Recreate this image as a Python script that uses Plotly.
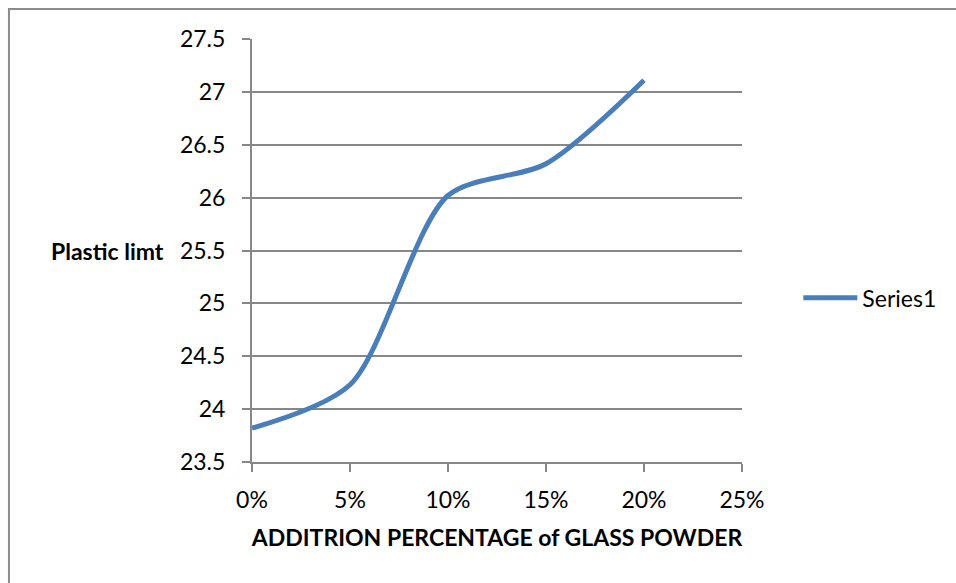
import plotly.graph_objects as go

x_pct = [0, 0.05, 0.10, 0.15, 0.20]
plastic_limit = [23.82, 24.23, 26.02, 26.32, 27.11]
series_name = "Series1"
x_ticks = [0, 0.05, 0.10, 0.15, 0.20, 0.25]
x_tick_labels = ["0%", "5%", "10%", "15%", "20%", "25%"]
y_ticks = [23.5, 24, 24.5, 25, 25.5, 26, 26.5, 27, 27.5]
y_tick_labels = ["23.5", "24", "24.5", "25", "25.5", "26", "26.5", "27", "27.5"]

FONT = "Lato, Carlito, Calibri, sans-serif"
GRID = "#878787"
FS = 23

fig = go.Figure()
fig.add_trace(go.Scatter(
    x=x_pct, y=plastic_limit, name=series_name, mode="lines",
    line=dict(color="#4a7ebb", width=5, shape="spline", smoothing=0.8),
))

fig.update_layout(
    width=956, height=583,
    margin=dict(l=252, r=214, t=39, b=121),
    paper_bgcolor="white", plot_bgcolor="white",
    font=dict(family=FONT, size=FS, color="black"),
    showlegend=True,
    legend=dict(x=1.115, y=0.388, xref="paper", yref="paper", xanchor="left", yanchor="middle",
                font=dict(size=FS), bgcolor="rgba(0,0,0,0)", itemwidth=54),
    xaxis=dict(range=[0, 0.25], tickvals=x_ticks, ticktext=x_tick_labels,
               showgrid=False, zeroline=False, showline=True, linecolor=GRID, linewidth=2,
               ticks="outside", ticklen=8, tickcolor=GRID, tickwidth=2,
               ticklabelstandoff=8,
               title=dict(text="<b>ADDITRION PERCENTAGE of GLASS POWDER</b>", font=dict(size=FS), standoff=18)),
    yaxis=dict(range=[23.5, 27.5], tickvals=y_ticks, ticktext=y_tick_labels,
               showgrid=True, gridcolor=GRID, gridwidth=2, zeroline=False,
               showline=True, linecolor=GRID, linewidth=2,
               ticks="outside", ticklen=8, tickcolor=GRID, tickwidth=2,
               ticklabelstandoff=12),
)

fig.add_annotation(text="<b>Plastic limt</b>", xref="paper", yref="paper",
                   x=-0.176, y=0.5, xanchor="right", yanchor="middle",
                   showarrow=False, font=dict(size=FS, family=FONT))

fig.add_shape(type="rect", xref="paper", yref="paper",
              x0=-0.496, y0=-0.6, x1=1.5, y1=1.0709,
              line=dict(color="#8c8c8c", width=2), layer="below")

fig.write_html("out.html")
